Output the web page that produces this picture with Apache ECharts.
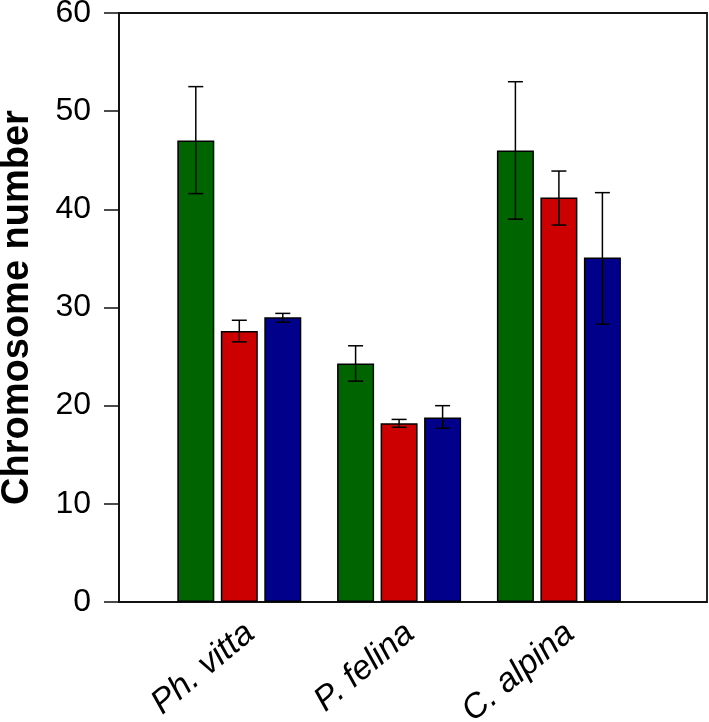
<!DOCTYPE html>
<html>
<head>
<meta charset="utf-8">
<script src="https://cdn.jsdelivr.net/npm/echarts@6/dist/echarts.min.js"></script>
<style>html,body{margin:0;padding:0;background:#fff}#c{width:709px;height:722px}</style>
</head>
<body>
<div id="c"></div>
<script>
const categories = ['Ph. vitta', 'P. felina', 'C. alpina'];
const yTicks = [0, 10, 20, 30, 40, 50, 60];
const seriesNames = ['green', 'red', 'blue'];
const greenValues = [47.0, 24.3, 46.0];
const greenLow = [41.6, 22.5, 39.0];
const greenHigh = [52.5, 26.1, 53.0];
const redValues = [27.6, 18.2, 41.2];
const redLow = [26.5, 17.8, 38.4];
const redHigh = [28.7, 18.6, 43.9];
const blueValues = [29.0, 18.8, 35.1];
const blueLow = [28.5, 17.7, 28.3];
const blueHigh = [29.4, 20.0, 41.7];
const colors = ['#006400', '#cc0000', '#00008b'];

const values = [greenValues, redValues, blueValues];
const lows = [greenLow, redLow, blueLow];
const highs = [greenHigh, redHigh, blueHigh];

const BAR_W = 37, BAR_GAP = 6.5;
const FONT = '"Liberation Sans", Arial, Helvetica, sans-serif';

const chart = echarts.init(document.getElementById('c'), null, {renderer: 'canvas'});

const series = [];
values.forEach((vals, k) => {
  series.push({
    name: seriesNames[k],
    type: 'bar',
    xAxisIndex: 1, yAxisIndex: 1,
    barWidth: BAR_W,
    barGap: (BAR_GAP / BAR_W * 100) + '%',
    data: vals,
    itemStyle: {color: colors[k], borderColor: '#000', borderWidth: 1.5},
    silent: true,
    z: 2
  });
});
values.forEach((vals, k) => {
  series.push({
    name: seriesNames[k] + ' err',
    type: 'custom',
    xAxisIndex: 1, yAxisIndex: 1,
    data: vals.map((v, i) => [i, lows[k][i], highs[k][i]]),
    renderItem: function (params, api) {
      const i = api.value(0);
      const off = (k - 1) * (BAR_W + BAR_GAP);
      const lo = api.coord([i, api.value(1)]);
      const hi = api.coord([i, api.value(2)]);
      const x = lo[0] + off;
      const cap = 7.5;
      const st = {stroke: '#000', lineWidth: 1.5};
      return {
        type: 'group',
        children: [
          {type: 'line', shape: {x1: x, y1: lo[1], x2: x, y2: hi[1]}, style: st},
          {type: 'line', shape: {x1: x - cap, y1: lo[1], x2: x + cap, y2: lo[1]}, style: st},
          {type: 'line', shape: {x1: x - cap, y1: hi[1], x2: x + cap, y2: hi[1]}, style: st}
        ]
      };
    },
    silent: true,
    z: 3
  });
});

chart.setOption({
  animation: false,
  backgroundColor: '#fff',
  grid: [
    {left: 119, right: 2, top: 13, bottom: 120, show: true, borderColor: '#111', borderWidth: 1.8, backgroundColor: 'transparent', outerBoundsMode: 'none', containLabel: false},
    {left: 159.4, right: 70.2, top: 13, bottom: 120, outerBoundsMode: 'none', containLabel: false}
  ],
  xAxis: [
    {type: 'category', gridIndex: 0, data: categories, show: false},
    {type: 'category', gridIndex: 1, data: categories,
     axisLine: {show: false}, axisTick: {show: false},
     axisLabel: {rotate: 40, margin: 14, fontSize: 34, fontStyle: 'italic', color: '#000', fontFamily: FONT, interval: 0, verticalAlign: 'top'}}
  ],
  yAxis: [
    {type: 'value', gridIndex: 0, min: yTicks[0], max: yTicks[yTicks.length - 1], interval: 10,
     axisLine: {show: true, lineStyle: {color: '#111', width: 1.8}},
     axisTick: {show: true, inside: false, length: 15, lineStyle: {color: '#111', width: 1.5}},
     axisLabel: {fontSize: 32, color: '#000', margin: 28, fontFamily: FONT},
     splitLine: {show: false},
     name: 'Chromosome number', nameLocation: 'middle', nameGap: 82, nameRotate: 90,
     nameTextStyle: {fontSize: 38, fontWeight: 'bold', color: '#000', fontFamily: FONT}},
    {type: 'value', gridIndex: 1, min: 0, max: 60, show: false}
  ],
  series: series
});
</script>
</body>
</html>
